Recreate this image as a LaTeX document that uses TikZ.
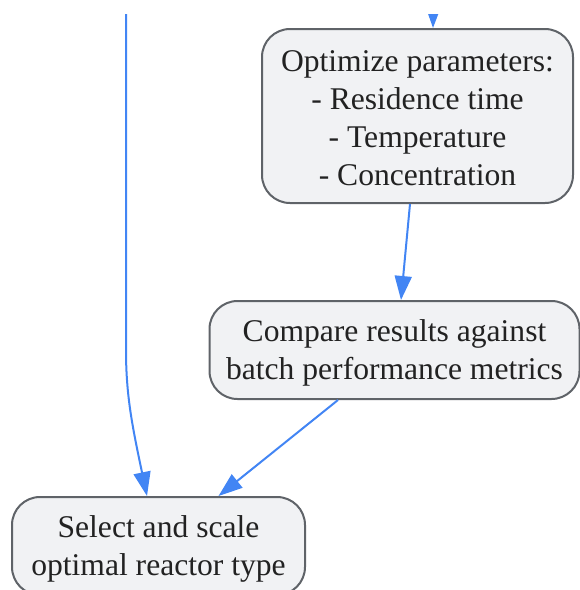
\documentclass[tikz,border=0pt]{standalone}
\usepackage{fontspec}
\setmainfont{Liberation Serif}
\usetikzlibrary{arrows.meta}
\definecolor{edgeblue}{RGB}{66,133,244}
\definecolor{boxfill}{RGB}{241,242,244}
\definecolor{boxline}{RGB}{95,99,104}
\definecolor{txt}{RGB}{34,34,34}

\begin{document}
\begin{tikzpicture}[x=1pt,y=-1pt,
  box/.style={draw=boxline,line width=2pt,fill=boxfill,rounded corners=28pt,inner sep=0pt},
  boxtext/.style={align=center,inner sep=0pt,text=txt,yshift=-3pt,
    font=\fontsize{31.6}{38}\selectfont},
  flow/.style={draw=edgeblue,line width=2pt,-{Triangle[length=24pt,width=17pt]}}]
\useasboundingbox (0,0) rectangle (580,590);
\clip (0,14) rectangle (580,590);
% steps
\node [box,minimum width=311pt,minimum height=174pt,
  label={[boxtext,yshift=1pt]center:{Optimize parameters:\\- Residence time\\- Temperature\\- Concentration}}]
  (opt) at (417.5,116) {};
\node [box,minimum width=370pt,minimum height=98pt,
  label={[boxtext]center:{Compare results against\\batch performance metrics}}]
  (cmp) at (394.5,350) {};
\node [box,minimum width=293pt,minimum height=98pt,
  label={[boxtext]center:{Select and scale\\optimal reactor type}}]
  (sel) at (158.5,546) {};
% incoming lines from above
\coordinate (inleft) at (126,-10);
\coordinate (inright) at (433.5,-10);
\draw [flow] (inright) -- ([xshift=15.5pt]opt.north);
\draw [flow] (inleft) -- (126,350) .. controls (126,395) and (132,425) .. ([xshift=-11.5pt]sel.north);
% between steps
\draw [flow] ([xshift=-7.5pt]opt.south) -- ([xshift=6.5pt]cmp.north);
\draw [flow] ([xshift=-56.5pt]cmp.south) -- ([xshift=60pt]sel.north);
\end{tikzpicture}
\end{document}
